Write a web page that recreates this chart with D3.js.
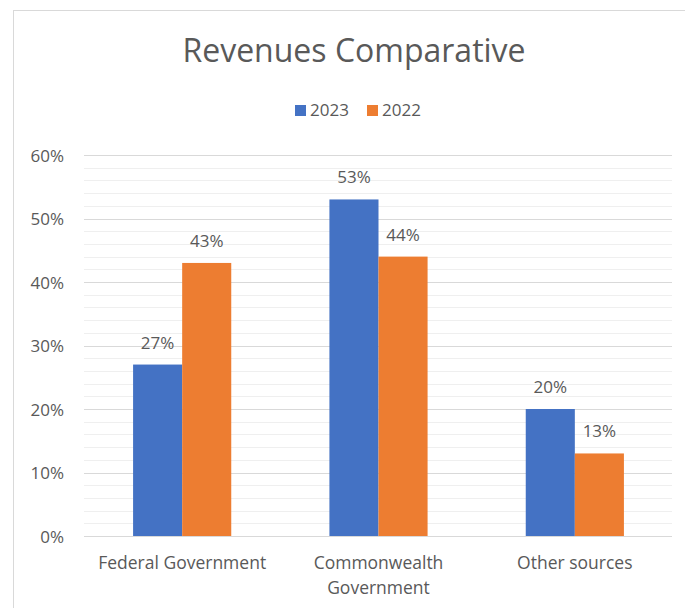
<!DOCTYPE html>
<html><head><meta charset="utf-8">
<script src="https://cdn.jsdelivr.net/npm/d3@7"></script>
<style>body{margin:0;background:#fff}svg{display:block}text{font-family:"Open Sans","Noto Sans",sans-serif;fill:#595959}</style>
</head><body><svg id="c" width="685" height="608"></svg>
<script>
const categories = ["Federal Government", "Commonwealth|Government", "Other sources"];
const seriesNames = ["2023", "2022"];
const values2023 = [27, 53, 20];
const values2022 = [43, 44, 13];
const yTicks = [0, 10, 20, 30, 40, 50, 60];
const colors = ["#4472C4", "#ED7D31"];

const svg = d3.select("#c");
// chart border
svg.append("rect").attr("x", 13.5).attr("y", 10.5).attr("width", 700).attr("height", 700)
  .attr("fill", "#fff").attr("stroke", "#D9D9D9");

const x0 = d3.scaleBand().domain(categories).range([84, 673]).paddingInner(0.5).paddingOuter(0.25);
const x1 = d3.scaleBand().domain(seriesNames).range([0, x0.bandwidth()]);
const y = d3.scaleLinear().domain([0, 60]).range([536, 155]);
const [gx1, gx2] = [84, 672];

// minor gridlines
svg.append("g").selectAll("line").data(d3.range(0, 61, 2).filter(v => v % 10 !== 0)).join("line")
  .attr("x1", gx1).attr("x2", gx2).attr("y1", d => Math.round(y(d)) + 0.5).attr("y2", d => Math.round(y(d)) + 0.5)
  .attr("stroke", "#EFEFEF");
// major gridlines
svg.append("g").selectAll("line").data(yTicks).join("line")
  .attr("x1", gx1).attr("x2", gx2).attr("y1", d => Math.round(y(d)) + 0.5).attr("y2", d => Math.round(y(d)) + 0.5)
  .attr("stroke", "#D9D9D9");

// y axis labels
const yAxis = d3.axisLeft(y).tickValues(yTicks).tickFormat(d => d + "%").tickSize(0).tickPadding(20);
const ya = svg.append("g").attr("transform", `translate(${gx1},0)`).call(yAxis);
ya.select(".domain").remove();
ya.selectAll("text").attr("font-size", 17).attr("dy", 6).style("fill", "#595959")
  .attr("font-family", '"Open Sans","Noto Sans",sans-serif');

const data = categories.map((c, i) => ({cat: c, vals: [values2023[i], values2022[i]]}));
const groups = svg.append("g").selectAll("g").data(data).join("g")
  .attr("transform", d => `translate(${x0(d.cat)},0)`);
groups.selectAll("rect").data(d => d.vals.map((v, j) => ({v, s: seriesNames[j], j}))).join("rect")
  .attr("x", d => x1(d.s)).attr("width", x1.bandwidth())
  .attr("y", d => y(d.v)).attr("height", d => y(0) - y(d.v)).attr("fill", d => colors[d.j]);
groups.selectAll("text.v").data(d => d.vals.map((v, j) => ({v, s: seriesNames[j], j}))).join("text")
  .attr("class", "v").attr("x", d => x1(d.s) + x1.bandwidth() / 2).attr("y", d => y(d.v) - 16)
  .attr("text-anchor", "middle").attr("font-size", 17).text(d => d.v + "%");

// category labels
const xl = svg.append("g").selectAll("text").data(categories).join("text")
  .attr("x", d => x0(d) + x0.bandwidth() / 2).attr("y", 569).attr("text-anchor", "middle").attr("font-size", 17.5);
xl.each(function(d) {
  const parts = d.split("|");
  d3.select(this).selectAll("tspan").data(parts).join("tspan")
    .attr("x", x0(d) + x0.bandwidth() / 2).attr("dy", (p, i) => i === 0 ? 0 : 25).text(p => p);
});

// title
svg.append("text").attr("x", 354).attr("y", 62).attr("text-anchor", "middle").attr("font-size", 32).text("Revenues Comparative");

// legend
const legend = svg.append("g");
const legItems = [{n: seriesNames[0], x: 295}, {n: seriesNames[1], x: 367}];
legItems.forEach((it, i) => {
  legend.append("rect").attr("x", it.x).attr("y", 105).attr("width", 11).attr("height", 11).attr("fill", colors[i]);
  legend.append("text").attr("x", it.x + 15).attr("y", 116).attr("font-size", 17).text(it.n);
});
</script></body></html>
